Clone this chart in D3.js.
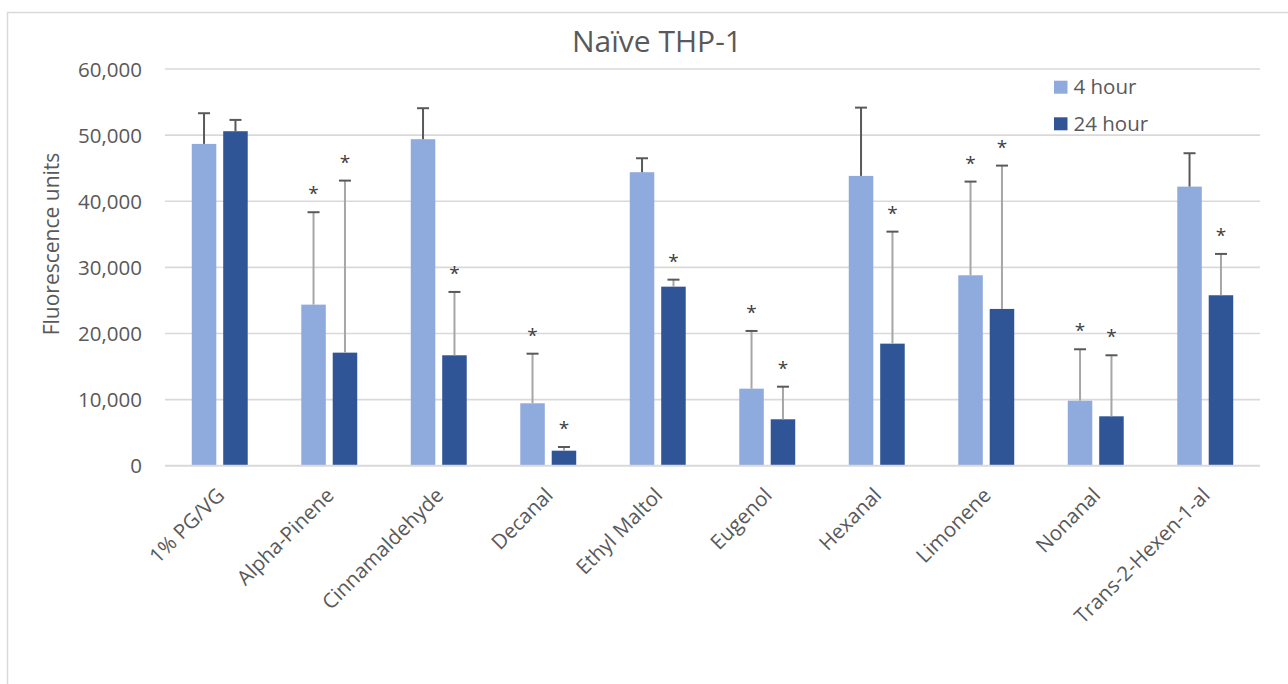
<!DOCTYPE html>
<html>
<head>
<meta charset="utf-8">
<script src="https://cdn.jsdelivr.net/npm/d3@7"></script>
<style>
  html, body { margin: 0; padding: 0; background: #fff; }
  svg { display: block; font-family: "Open Sans", "Noto Sans", sans-serif; }
  svg text { font-family: "Open Sans", "Noto Sans", sans-serif; }
</style>
</head>
<body>
<svg id="chart" width="1288" height="684"></svg>
<script>
const categories = ["1% PG/VG", "Alpha-Pinene", "Cinnamaldehyde", "Decanal", "Ethyl Maltol",
  "Eugenol", "Hexanal", "Limonene", "Nonanal", "Trans-2-Hexen-1-al"];
const seriesNames = ["4 hour", "24 hour"];
const mean4  = [48670, 24360, 49380, 9440, 44390, 11650, 43830, 28800, 9830, 42210];
const err4   = [4640, 13980, 4690, 7500, 2110, 8730, 10330, 14170, 7780, 5050];
const mean24 = [50590, 17100, 16700, 2270, 27080, 7020, 18460, 23710, 7470, 25780];
const err24  = [1710, 26020, 9580, 560, 1060, 4930, 16940, 21680, 9230, 6250];
const sig4   = [false, true, false, true, false, true, false, true, true, false];
const sig24  = [false, true, true, true, true, true, true, true, true, true];
const yTicks = [0, 10000, 20000, 30000, 40000, 50000, 60000];
const titleText = "Naïve THP-1";
const yLabel = "Fluorescence units";

const colors = ["#8faadc", "#2f5597"];
const textColor = "#595959";
const gridColor = "#d9d9d9";
const FONT = '"Open Sans", "Noto Sans", sans-serif';

const svg = d3.select("#chart");

// outer chart border
svg.append("rect").attr("x", 7.5).attr("y", 12.5).attr("width", 1300).attr("height", 700)
  .attr("fill", "none").attr("stroke", gridColor).attr("stroke-width", 1.5);

const plot = { left: 165, right: 1260, top: 69, bottom: 465.7 };

const x0 = d3.scaleBand().domain(categories).range([plot.left, plot.right])
  .paddingInner(0.489).paddingOuter(0.2445);
const x1 = d3.scaleBand().domain(seriesNames).range([0, x0.bandwidth()])
  .paddingInner(0.22).paddingOuter(0);
const y = d3.scaleLinear().domain([0, 60000]).range([plot.bottom, plot.top]);

// gridlines
svg.append("g").selectAll("line").data(yTicks.filter(d => d > 0)).join("line")
  .attr("x1", plot.left).attr("x2", plot.right)
  .attr("y1", d => y(d)).attr("y2", d => y(d))
  .attr("stroke", gridColor).attr("stroke-width", 1.6);

// y axis labels
const yAxis = d3.axisLeft(y).tickValues(yTicks).tickSize(0).tickPadding(0)
  .tickFormat(d3.format(","));
const gy = svg.append("g").attr("transform", `translate(${plot.left - 23},0)`).call(yAxis)
  .attr("font-family", FONT);
gy.select(".domain").remove();
gy.selectAll("text").attr("fill", textColor).style("font-size", "20.5px")
  .attr("dy", "0.35em");

// data rows
const rows = categories.map((c, i) => ({
  cat: c,
  vals: [
    { s: seriesNames[0], v: mean4[i], e: err4[i], sig: sig4[i], k: 0 },
    { s: seriesNames[1], v: mean24[i], e: err24[i], sig: sig24[i], k: 1 }
  ]
}));

const groups = svg.append("g").selectAll("g").data(rows).join("g")
  .attr("transform", d => `translate(${x0(d.cat)},0)`);

groups.selectAll("rect").data(d => d.vals).join("rect")
  .attr("x", d => x1(d.s)).attr("width", x1.bandwidth())
  .attr("y", d => y(d.v)).attr("height", d => y(0) - y(d.v))
  .attr("fill", d => colors[d.k]);

// error bars
const capW = 12;
groups.selectAll("line.stem").data(d => d.vals).join("line").attr("class", "stem")
  .attr("x1", d => x1(d.s) + x1.bandwidth() / 2).attr("x2", d => x1(d.s) + x1.bandwidth() / 2)
  .attr("y1", d => y(d.v)).attr("y2", d => y(d.v + d.e))
  .attr("stroke", d => d.sig ? "#a6a6a6" : "#595959").attr("stroke-width", 2);
groups.selectAll("line.cap").data(d => d.vals).join("line").attr("class", "cap")
  .attr("x1", d => x1(d.s) + x1.bandwidth() / 2 - capW / 2)
  .attr("x2", d => x1(d.s) + x1.bandwidth() / 2 + capW / 2)
  .attr("y1", d => y(d.v + d.e)).attr("y2", d => y(d.v + d.e))
  .attr("stroke", "#595959").attr("stroke-width", 2);

// significance stars
groups.selectAll("text.star").data(d => d.vals.filter(v => v.sig)).join("text").attr("class", "star")
  .attr("x", d => x1(d.s) + x1.bandwidth() / 2)
  .attr("y", d => y(d.v + d.e) - 12)
  .attr("text-anchor", "middle").attr("fill", "#404040")
  .style("font-size", "19px").text("*");

// baseline axis
svg.append("line").attr("x1", plot.left).attr("x2", plot.right)
  .attr("y1", y(0)).attr("y2", y(0)).attr("stroke", gridColor).attr("stroke-width", 2);

// x axis labels
const xAxis = d3.axisBottom(x0).tickSize(0).tickPadding(0);
const gx = svg.append("g").attr("transform", `translate(0,${plot.bottom})`).call(xAxis)
  .attr("font-family", FONT);
gx.select(".domain").remove();
gx.selectAll("text")
  .attr("fill", textColor).style("font-size", "20.5px")
  .attr("text-anchor", "end")
  .attr("dy", null).attr("y", null)
  .attr("transform", "translate(6,31) rotate(-45)");

// title
svg.append("text").attr("x", 657).attr("y", 52).attr("text-anchor", "middle")
  .attr("fill", textColor).style("font-size", "30px").text(titleText);

// y label
svg.append("text").attr("transform", "translate(59,244) rotate(-90)")
  .attr("text-anchor", "middle").attr("fill", textColor)
  .style("font-size", "21px").text(yLabel);

// legend
const leg = svg.append("g").selectAll("g").data(seriesNames).join("g")
  .attr("transform", (d, i) => `translate(1054,${80.7 + i * 36.6})`);
leg.append("rect").attr("width", 13.5).attr("height", 13).attr("fill", (d, i) => colors[i]);
leg.append("text").attr("x", 19.5).attr("y", 6.5).attr("dy", "0.35em")
  .attr("fill", textColor).style("font-size", "20.5px").text(d => d);
</script>
</body>
</html>
